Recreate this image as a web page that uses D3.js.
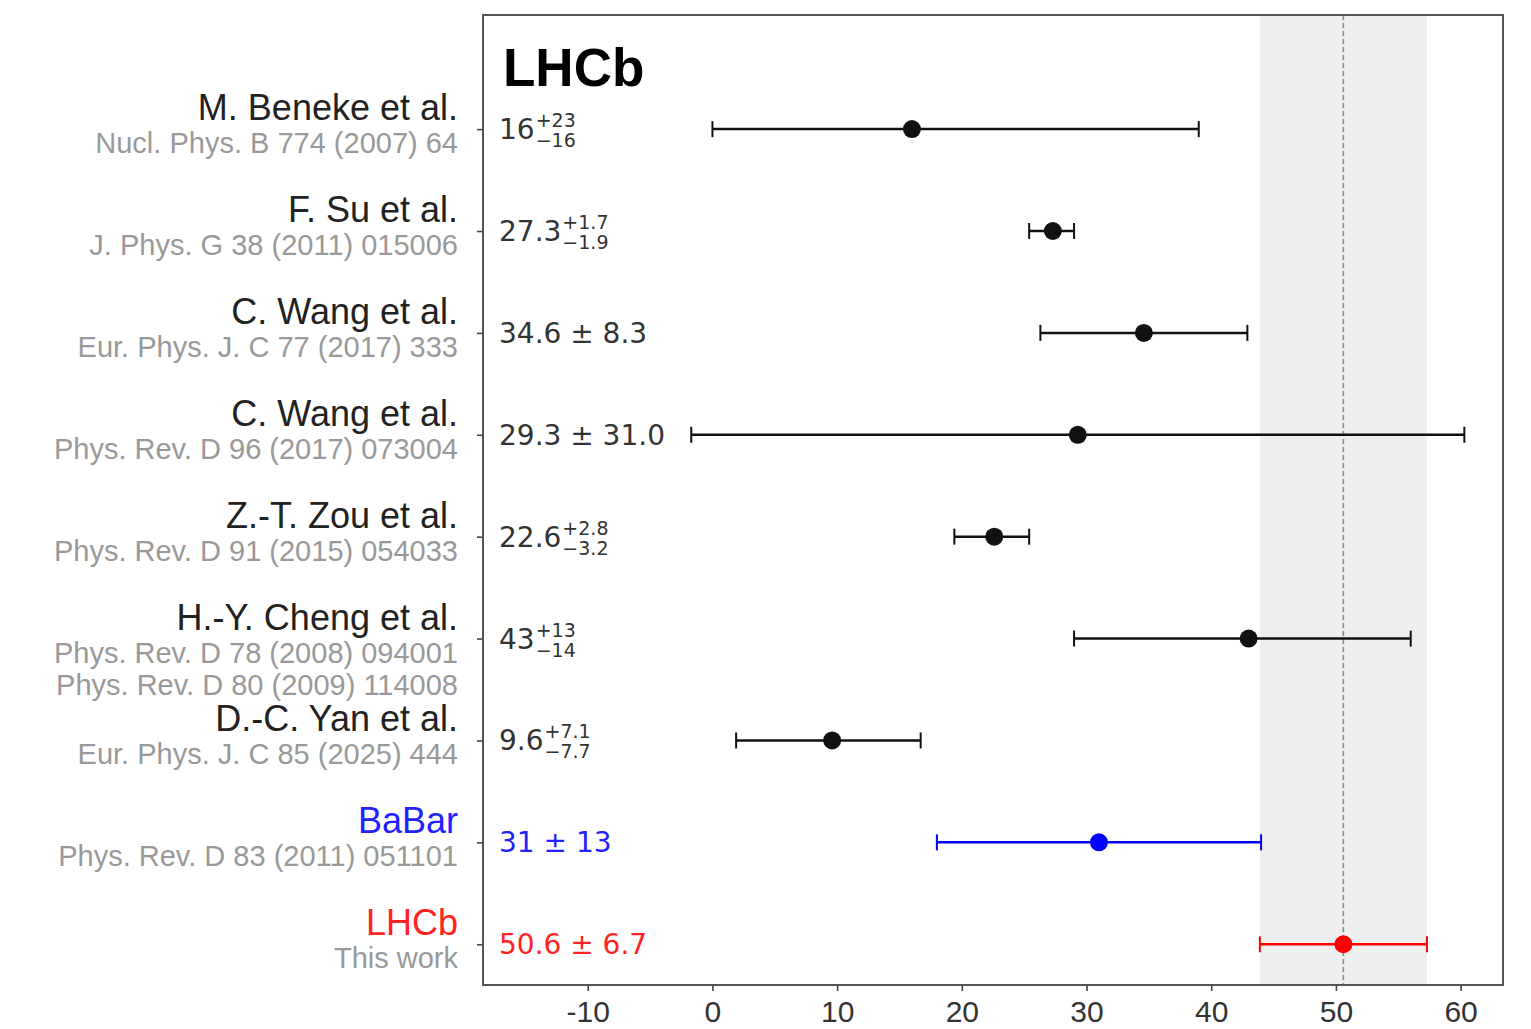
<!DOCTYPE html>
<html>
<head>
<meta charset="utf-8">
<script src="https://cdn.jsdelivr.net/npm/d3@7"></script>
<style>
  body { margin: 0; background: white; }
</style>
</head>
<body>
<div id="chart"></div>
<script>
// values
var authors = ["M. Beneke et al.", "F. Su et al.", "C. Wang et al.", "C. Wang et al.",
  "Z.-T. Zou et al.", "H.-Y. Cheng et al.", "D.-C. Yan et al.", "BaBar", "LHCb"];
var refs = [
  ["Nucl. Phys. B 774 (2007) 64"],
  ["J. Phys. G 38 (2011) 015006"],
  ["Eur. Phys. J. C 77 (2017) 333"],
  ["Phys. Rev. D 96 (2017) 073004"],
  ["Phys. Rev. D 91 (2015) 054033"],
  ["Phys. Rev. D 78 (2008) 094001", "Phys. Rev. D 80 (2009) 114008"],
  ["Eur. Phys. J. C 85 (2025) 444"],
  ["Phys. Rev. D 83 (2011) 051101"],
  ["This work"]
];
var central = [16, 27.3, 34.6, 29.3, 22.6, 43, 9.6, 31, 50.6];
var errMinus = [16, 1.9, 8.3, 31.0, 3.2, 14, 7.7, 13, 6.7];
var errPlus = [23, 1.7, 8.3, 31.0, 2.8, 13, 7.1, 13, 6.7];
var valMain = ["16", "27.3", "34.6 \u00b1 8.3", "29.3 \u00b1 31.0", "22.6", "43", "9.6", "31 \u00b1 13", "50.6 \u00b1 6.7"];
var valSup = ["+23", "+1.7", "", "", "+2.8", "+13", "+7.1", "", ""];
var valSub = ["\u221216", "\u22121.9", "", "", "\u22123.2", "\u221214", "\u22127.7", "", ""];
var kind = ["theory", "theory", "theory", "theory", "theory", "theory", "theory", "babar", "lhcb"];
var xTicks = [-10, 0, 10, 20, 30, 40, 50, 60];

var colors = { theory: "#111", babar: "#0000ff", lhcb: "#ff0000" };
var nameColors = { theory: "#222", babar: "#2222ff", lhcb: "#ff2222" };
var labelColors = { theory: "#333", babar: "#2222ff", lhcb: "#ff2222" };

var svgWidth = 1531;
var svgHeight = 1029;
var margin = { top: 15, right: 28, bottom: 44, left: 483 };
var width = svgWidth - margin.left - margin.right;
var height = svgHeight - margin.top - margin.bottom;

var svg = d3.select("#chart")
  .append("svg")
  .attr("width", svgWidth)
  .attr("height", svgHeight)
  .style("background", "white");

var chartGroup = svg.append("g")
  .attr("transform", `translate(${margin.left}, ${margin.top})`);

var xScale = d3.scaleLinear().domain([-18.4, 63.4]).range([0, width]);
var yScale = d3.scaleLinear().domain([-1.12, 8.4]).range([0, height]);

// LHCb band and central line
var lhcb = central.length - 1;
chartGroup.append("rect")
  .attr("x", xScale(central[lhcb] - errMinus[lhcb]))
  .attr("y", 0)
  .attr("width", xScale(central[lhcb] + errPlus[lhcb]) - xScale(central[lhcb] - errMinus[lhcb]))
  .attr("height", height)
  .attr("fill", "#efefef");

chartGroup.append("line")
  .attr("x1", xScale(central[lhcb]))
  .attr("x2", xScale(central[lhcb]))
  .attr("y1", 0)
  .attr("y2", height)
  .attr("stroke", "#888")
  .attr("stroke-width", 1.6)
  .attr("stroke-dasharray", "5,3");

// axes
var xAxis = chartGroup.append("g")
  .attr("transform", `translate(0, ${height})`)
  .call(d3.axisBottom(xScale).tickValues(xTicks).tickFormat(d => String(d))
    .tickSize(6).tickSizeOuter(0).tickPadding(10));
xAxis.select(".domain").remove();
xAxis.selectAll("line").attr("stroke", "#444").attr("stroke-width", 1.6);
xAxis.selectAll("text")
  .attr("fill", "#333")
  .style("font-family", "Liberation Sans, Arial, sans-serif")
  .style("font-size", "30px");

var yAxis = chartGroup.append("g")
  .call(d3.axisLeft(yScale).tickValues(d3.range(authors.length)).tickFormat("").tickSize(6).tickSizeOuter(0));
yAxis.select(".domain").remove();
yAxis.selectAll("line").attr("stroke", "#444").attr("stroke-width", 1.6);

// frame
chartGroup.append("rect")
  .attr("x", 0).attr("y", 0)
  .attr("width", width).attr("height", height)
  .attr("fill", "none")
  .attr("stroke", "#555")
  .attr("stroke-width", 2);

// error bars
var rows = chartGroup.selectAll(".row")
  .data(central)
  .enter()
  .append("g")
  .attr("class", "row");

rows.append("line")
  .attr("x1", (d, i) => xScale(d - errMinus[i]))
  .attr("x2", (d, i) => xScale(d + errPlus[i]))
  .attr("y1", (d, i) => yScale(i))
  .attr("y2", (d, i) => yScale(i))
  .attr("stroke", (d, i) => colors[kind[i]])
  .attr("stroke-width", 2.5);

// caps
[errMinus, errPlus].forEach(function(err, k) {
  rows.append("line")
    .attr("x1", (d, i) => xScale(k ? d + err[i] : d - err[i]))
    .attr("x2", (d, i) => xScale(k ? d + err[i] : d - err[i]))
    .attr("y1", (d, i) => yScale(i) - 8)
    .attr("y2", (d, i) => yScale(i) + 8)
    .attr("stroke", (d, i) => colors[kind[i]])
    .attr("stroke-width", 2);
});

rows.append("circle")
  .attr("cx", d => xScale(d))
  .attr("cy", (d, i) => yScale(i))
  .attr("r", 9)
  .attr("fill", (d, i) => colors[kind[i]]);

// value labels
rows.each(function(d, i) {
  var g = d3.select(this);
  var y = yScale(i);
  var main = g.append("text")
    .attr("x", 16)
    .attr("y", y + 10)
    .attr("fill", labelColors[kind[i]])
    .style("font-family", "DejaVu Sans, sans-serif")
    .style("font-size", "28px")
    .text(valMain[i]);
  if (valSup[i]) {
    var x0 = 16 + main.node().getComputedTextLength() + 1;
    g.append("text")
      .attr("x", x0).attr("y", y - 2)
      .attr("fill", labelColors[kind[i]])
      .style("font-family", "DejaVu Sans, sans-serif")
      .style("font-size", "19px")
      .text(valSup[i]);
    g.append("text")
      .attr("x", x0).attr("y", y + 18)
      .attr("fill", labelColors[kind[i]])
      .style("font-family", "DejaVu Sans, sans-serif")
      .style("font-size", "19px")
      .text(valSub[i]);
  }
});

// title
chartGroup.append("text")
  .attr("x", 20)
  .attr("y", 71)
  .attr("fill", "#000")
  .style("font-family", "Liberation Sans, Arial, sans-serif")
  .style("font-weight", "bold")
  .style("font-size", "53px")
  .text("LHCb");

// left labels
var labelGroup = svg.append("g")
  .attr("transform", `translate(${margin.left - 25}, ${margin.top})`);

authors.forEach(function(name, i) {
  var y = yScale(i);
  labelGroup.append("text")
    .attr("x", 0)
    .attr("y", y - 9)
    .attr("text-anchor", "end")
    .attr("fill", nameColors[kind[i]])
    .style("font-family", "Liberation Sans, Arial, sans-serif")
    .style("font-size", "36px")
    .text(name);
  refs[i].forEach(function(r, j) {
    labelGroup.append("text")
      .attr("x", 0)
      .attr("y", y + 24 + j * 32)
      .attr("text-anchor", "end")
      .attr("fill", "#999")
      .style("font-family", "Liberation Sans, Arial, sans-serif")
      .style("font-size", "29px")
      .text(r);
  });
});
</script>
</body>
</html>
